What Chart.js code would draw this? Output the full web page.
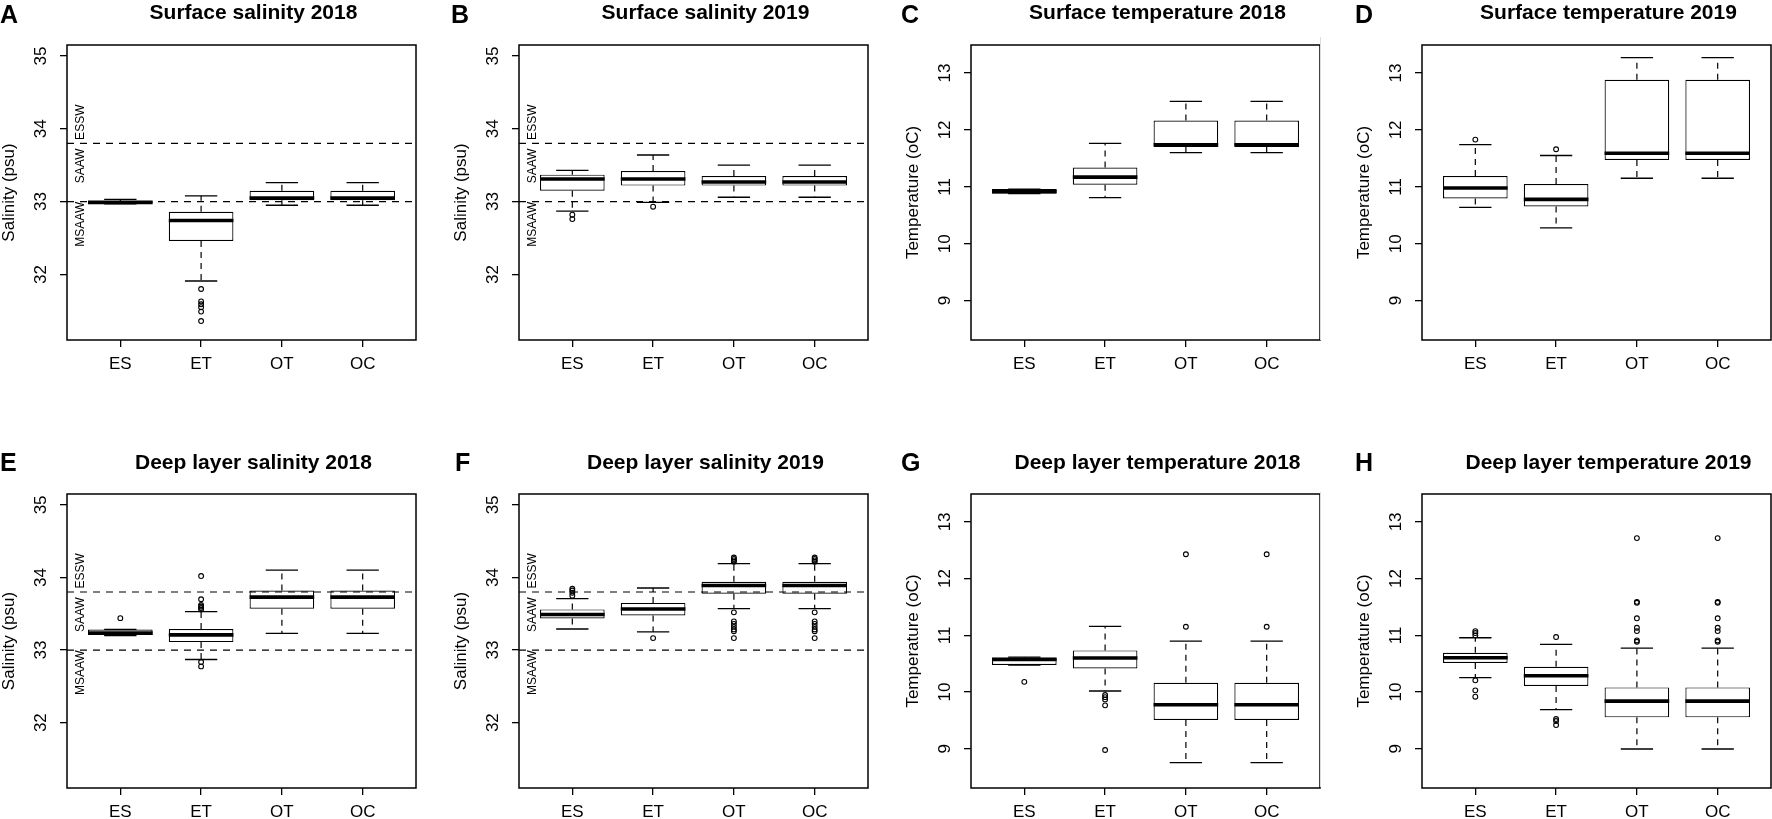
<!DOCTYPE html>
<html>
<head>
<meta charset="utf-8">
<script src="https://cdn.jsdelivr.net/npm/chart.js@4.4.1/dist/chart.umd.min.js"></script>
<style>
html, body { margin: 0; padding: 0; background: #fff; overflow: hidden; }
#figure { position: relative; width: 1772px; height: 819px; overflow: hidden; background: #fff; font-family: "Liberation Sans", Arial, sans-serif; color: #000; }
#figure canvas { position: absolute; }
.letter { position: absolute; font-weight: bold; font-size: 25px; line-height: 25px; }
.title { position: absolute; width: 420px; text-align: center; font-weight: bold; font-size: 21px; line-height: 21px; white-space: nowrap; }
.edge { position: absolute; width: 1px; background: #dcdcdc; }
</style>
</head>
<body>
<div id="figure"></div>
<script>
// ==========================
// DATA
// ==========================

const groups = ["ES", "ET", "OT", "OC"];

const salTicks = [32, 33, 34, 35];
const tempTicks = [9, 10, 11, 12, 13];

const salRefs = [33, 33.8];
const massNames = ["ESSW", "SAAW", "MSAAW"];
const massAt = [34.09, 33.49, 32.69];

// each row: lower whisker, Q1, median, Q3, upper whisker
const boxA = [
    [32.97, 32.975, 32.99, 33.01, 33.03],
    [31.91, 32.46, 32.74, 32.86, 33.08],
    [32.95, 33.02, 33.05, 33.15, 33.26],
    [32.95, 33.02, 33.05, 33.15, 33.26]
];
const outA = [[], [31.80, 31.63, 31.59, 31.55, 31.49, 31.36], [], []];

const boxB = [
    [32.87, 33.15, 33.31, 33.37, 33.43],
    [32.99, 33.22, 33.31, 33.42, 33.64],
    [33.06, 33.22, 33.27, 33.35, 33.50],
    [33.06, 33.22, 33.27, 33.35, 33.50]
];
const outB = [[32.82, 32.76], [32.93], [], []];

const boxC = [
    [10.88, 10.88, 10.92, 10.96, 10.96],
    [10.81, 11.035, 11.17, 11.34, 11.765],
    [11.60, 11.70, 11.74, 12.165, 12.50],
    [11.60, 11.70, 11.74, 12.165, 12.50]
];
const outC = [[], [], [], []];

const boxD = [
    [10.64, 10.795, 10.98, 11.19, 11.74],
    [10.28, 10.655, 10.78, 11.05, 11.55],
    [11.15, 11.47, 11.59, 12.88, 13.27],
    [11.15, 11.47, 11.59, 12.88, 13.27]
];
const outD = [[11.83], [11.66], [], []];

const boxE = [
    [33.20, 33.206, 33.234, 33.284, 33.284],
    [32.87, 33.11, 33.21, 33.29, 33.53],
    [33.23, 33.57, 33.73, 33.82, 34.10],
    [33.23, 33.57, 33.73, 33.82, 34.10]
];
const outE = [[33.44], [34.02, 33.70, 33.62, 33.60, 33.58, 33.56, 32.835, 32.775], [], []];

const boxF = [
    [33.29, 33.435, 33.49, 33.56, 33.71],
    [33.25, 33.477, 33.565, 33.65, 33.855],
    [33.57, 33.775, 33.89, 33.94, 34.19],
    [33.57, 33.775, 33.89, 33.94, 34.19]
];
const outF = [
    [33.845, 33.82, 33.79, 33.75],
    [33.165],
    [34.275, 34.255, 34.235, 34.215, 33.52, 33.395, 33.36, 33.32, 33.285, 33.26, 33.165],
    [34.275, 34.255, 34.235, 34.215, 33.52, 33.395, 33.36, 33.32, 33.285, 33.26, 33.165]
];

const boxG = [
    [10.476, 10.476, 10.576, 10.605, 10.617],
    [10.018, 10.417, 10.60, 10.734, 11.157],
    [8.755, 9.507, 9.777, 10.164, 10.899],
    [8.755, 9.507, 9.777, 10.164, 10.899]
];
const outG = [[10.18], [9.947, 9.91, 9.87, 9.765, 8.978], [12.43, 11.151], [12.43, 11.151]];

const boxH = [
    [10.253, 10.511, 10.605, 10.693, 10.957],
    [9.689, 10.106, 10.288, 10.446, 10.84],
    [8.996, 9.554, 9.84, 10.082, 10.775],
    [8.996, 9.554, 9.84, 10.082, 10.775]
];
const outH = [
    [11.075, 11.04, 11.0, 10.206, 10.03, 9.918],
    [10.97, 9.524, 9.489, 9.418],
    [12.714, 11.59, 11.574, 11.30, 11.134, 11.075, 10.91, 10.887],
    [12.714, 11.59, 11.574, 11.30, 11.134, 11.075, 10.91, 10.887]
];

const letters = ["A", "B", "C", "D", "E", "F", "G", "H"];
const titles = [
    "Surface salinity 2018",
    "Surface salinity 2019",
    "Surface temperature 2018",
    "Surface temperature 2019",
    "Deep layer salinity 2018",
    "Deep layer salinity 2019",
    "Deep layer temperature 2018",
    "Deep layer temperature 2019"
];

const panels = [
    { box: boxA, out: outA, sal: true },
    { box: boxB, out: outB, sal: true },
    { box: boxC, out: outC, sal: false },
    { box: boxD, out: outD, sal: false },
    { box: boxE, out: outE, sal: true },
    { box: boxF, out: outF, sal: true },
    { box: boxG, out: outG, sal: false },
    { box: boxH, out: outH, sal: false }
];

// ==========================
// LAYOUT
// ==========================

const colX = [0, 452, 904, 1355];
const rowY = [0, 449];
const letterX = [0, 451, 901, 1355, 0, 455, 901, 1355];
const letterY = [2, 449.5];
const titleY = [1.2, 451.2];

const fig = document.getElementById("figure");

Chart.defaults.font.family = '"Liberation Sans", Arial, sans-serif';
Chart.defaults.color = "#000";

// whiskers, caps, medians, reference lines, water mass tags, frame, rotated y labels
function boxParts(p) {

    return {
        id: "boxParts",

        beforeDatasetsDraw(chart) {
            const ctx = chart.ctx;
            const xs = chart.scales.x;
            const ys = chart.scales.y;
            ctx.save();
            ctx.strokeStyle = "#000";
            p.box.forEach((b, g) => {
                const cx = xs.getPixelForValue(g + 1);
                const half = xs.getPixelForValue(g + 1.2) - cx;
                ctx.lineWidth = 1.2;
                ctx.setLineDash([6, 5]);
                ctx.beginPath();
                ctx.moveTo(cx, ys.getPixelForValue(b[3]));
                ctx.lineTo(cx, ys.getPixelForValue(b[4]));
                ctx.moveTo(cx, ys.getPixelForValue(b[1]));
                ctx.lineTo(cx, ys.getPixelForValue(b[0]));
                ctx.stroke();
                ctx.setLineDash([]);
                ctx.lineWidth = 1.3;
                ctx.beginPath();
                [b[0], b[4]].forEach(v => {
                    const py = ys.getPixelForValue(v);
                    ctx.moveTo(cx - half, py);
                    ctx.lineTo(cx + half, py);
                });
                ctx.stroke();
            });
            ctx.restore();
        },

        afterDatasetsDraw(chart) {
            const ctx = chart.ctx;
            const xs = chart.scales.x;
            const ys = chart.scales.y;
            const area = chart.chartArea;
            ctx.save();
            ctx.strokeStyle = "#000";
            ctx.fillStyle = "#000";
            ctx.lineCap = "butt";

            ctx.lineWidth = 3.6;
            p.box.forEach((b, g) => {
                const left = xs.getPixelForValue(g + 0.6);
                const right = xs.getPixelForValue(g + 1.4);
                const py = ys.getPixelForValue(b[2]);
                ctx.beginPath();
                ctx.moveTo(left, py);
                ctx.lineTo(right, py);
                ctx.stroke();
            });

            if (p.sal) {
                ctx.lineWidth = 1.2;
                ctx.setLineDash([7, 6]);
                salRefs.forEach(v => {
                    const py = ys.getPixelForValue(v);
                    ctx.beginPath();
                    ctx.moveTo(area.left, py);
                    ctx.lineTo(area.right, py);
                    ctx.stroke();
                });
                ctx.setLineDash([]);

                ctx.font = '12px "Liberation Sans", Arial, sans-serif';
                ctx.textAlign = "center";
                ctx.textBaseline = "middle";
                massNames.forEach((name, k) => {
                    ctx.save();
                    ctx.translate(area.left + 14, ys.getPixelForValue(massAt[k]));
                    ctx.rotate(-Math.PI / 2);
                    ctx.fillText(name, 0, 0);
                    ctx.restore();
                });
            }

            ctx.lineWidth = 1.5;
            ctx.strokeRect(area.left, area.top, area.right - area.left, area.bottom - area.top);

            // y tick labels run along the axis, as in R
            ctx.font = '17px "Liberation Sans", Arial, sans-serif';
            ctx.textAlign = "center";
            ctx.textBaseline = "middle";
            ys.ticks.forEach(t => {
                ctx.save();
                ctx.translate(area.left - 25.3, ys.getPixelForValue(t.value));
                ctx.rotate(-Math.PI / 2);
                ctx.fillText(String(t.value), 0, 0);
                ctx.restore();
            });

            ctx.restore();
        }
    };

}

// ==========================
// PANELS
// ==========================

panels.forEach((p, i) => {

    const col = i % 4;
    const row = Math.floor(i / 4);

    const canvas = document.createElement("canvas");
    canvas.width = 452;
    canvas.height = 409;
    canvas.style.left = colX[col] + "px";
    canvas.style.top = rowY[row] + "px";
    fig.appendChild(canvas);

    const letter = document.createElement("div");
    letter.className = "letter";
    letter.textContent = letters[i];
    letter.style.left = letterX[i] + "px";
    letter.style.top = letterY[row] + "px";
    fig.appendChild(letter);

    const title = document.createElement("div");
    title.className = "title";
    title.textContent = titles[i];
    title.style.left = (colX[col] + 253.5 - 210) + "px";
    title.style.top = titleY[row] + "px";
    fig.appendChild(title);

    const boxData = p.box.map((b, g) => ({ x: g + 1, y: [b[1], b[3]] }));
    const outData = [];
    p.out.forEach((list, g) => {
        list.forEach(v => outData.push({ x: g + 1, y: v }));
    });

    const yTicks = p.sal ? salTicks : tempTicks;

    new Chart(canvas, {

        type: "bar",

        data: {
            datasets: [
                {
                    type: "scatter",
                    data: outData,
                    order: 0,
                    pointRadius: 2.4,
                    pointHoverRadius: 2.4,
                    pointBorderWidth: 1.1,
                    pointBorderColor: "#000",
                    pointBackgroundColor: "rgba(0,0,0,0)"
                },
                {
                    type: "bar",
                    data: boxData,
                    order: 1,
                    backgroundColor: "#fff",
                    borderColor: "#000",
                    borderWidth: 1.2,
                    borderSkipped: false,
                    barPercentage: 0.8,
                    categoryPercentage: 1
                }
            ]
        },

        options: {
            responsive: false,
            animation: false,
            events: [],
            layout: {
                padding: { left: 0, top: 45, right: 36, bottom: row === 0 ? 29 : 30 }
            },
            plugins: {
                legend: { display: false },
                tooltip: { enabled: false }
            },
            scales: {
                x: {
                    type: "linear",
                    min: 0.34,
                    max: 4.66,
                    offset: false,
                    afterBuildTicks: s => { s.ticks = groups.map((g, k) => ({ value: k + 1 })); },
                    afterFit: s => { s.height = 40; },
                    ticks: {
                        callback: v => groups[v - 1],
                        font: { size: 17 },
                        padding: 7.5,
                        autoSkip: false,
                        maxRotation: 0,
                        color: "#000"
                    },
                    grid: {
                        offset: false,
                        drawOnChartArea: false,
                        drawTicks: true,
                        tickLength: 7,
                        color: "#000",
                        lineWidth: 1.3
                    },
                    border: { display: false }
                },
                y: {
                    type: "linear",
                    min: p.sal ? 31.1 : 8.308,
                    max: p.sal ? 35.15 : 13.492,
                    afterBuildTicks: s => { s.ticks = yTicks.map(v => ({ value: v })); },
                    afterFit: s => { s.width = 67; },
                    ticks: {
                        display: false
                    },
                    grid: {
                        drawOnChartArea: false,
                        drawTicks: true,
                        tickLength: 7,
                        color: "#000",
                        lineWidth: 1.3
                    },
                    border: { display: false },
                    title: {
                        display: true,
                        text: p.sal ? "Salinity (psu)" : "Temperature (oC)",
                        font: { size: 17, lineHeight: 1 },
                        padding: { top: 0.5, bottom: 0 },
                        color: "#000"
                    }
                }
            }
        },

        plugins: [boxParts(p)]

    });

});

// faint scan edge left of the last column
[[37, 303], [492, 295]].forEach(seg => {
    const edge = document.createElement("div");
    edge.className = "edge";
    edge.style.left = "1320px";
    edge.style.top = seg[0] + "px";
    edge.style.height = seg[1] + "px";
    fig.appendChild(edge);
});
</script>
</body>
</html>
